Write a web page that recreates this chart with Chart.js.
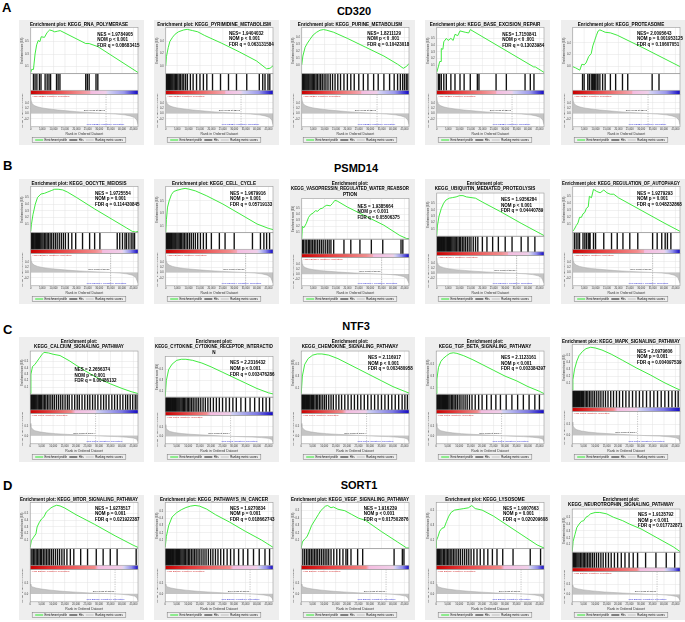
<!DOCTYPE html>
<html>
<head>
<meta charset="utf-8">
<script src="https://cdn.jsdelivr.net/npm/chart.js@4.4.1/dist/chart.umd.min.js"></script>
<style>
  body { margin: 0; background: #fff; width: 685px; height: 622px; position: relative; overflow: hidden;
         font-family: "Liberation Sans", Arial, sans-serif; }
  .lab { position: absolute; font-weight: bold; font-size: 13px; line-height: 1; }
  .gene { position: absolute; font-weight: bold; font-size: 11px; line-height: 1; width: 120px; margin-left: -60px; text-align: center; }
  canvas { position: absolute; background: #eeeeee; }
</style>
</head>
<body>
<div class="lab" style="left:2px;top:1px">A</div>
<div class="lab" style="left:3px;top:159px">B</div>
<div class="lab" style="left:3px;top:323px">C</div>
<div class="lab" style="left:3px;top:479px">D</div>
<div class="gene" style="left:354px;top:6px">CD320</div>
<div class="gene" style="left:356px;top:163px">PSMD14</div>
<div class="gene" style="left:356px;top:321px">NTF3</div>
<div class="gene" style="left:359px;top:480px">SORT1</div>
<script>
const FONT = '"Liberation Sans", Arial, sans-serif';

// ranks are in thousands (x axis labels show the full rank)

// ranked list metric, one per gene (row)
const rankCD320 = [[0,0.62],[0.2,0.48],[0.6,0.38],[1.5,0.3],[3,0.25],[5,0.21],[8,0.17],[12,0.13],[16,0.1],[20,0.07],[25,0.04],[30,0.015],[33,0],[37,-0.02],[41,-0.05],[43.5,-0.09],[45.5,-0.15],[46.5,-0.25],[47,-0.42]];
const rankPSMD14 = [[0,0.62],[0.2,0.45],[0.6,0.35],[1.5,0.28],[3,0.23],[5,0.19],[8,0.15],[12,0.12],[16,0.09],[20,0.065],[25,0.04],[30,0.02],[35,0],[39,-0.02],[42,-0.05],[44.5,-0.1],[46,-0.18],[47,-0.4]];
const rankNTF3 = [[0,0.62],[0.3,0.45],[1,0.33],[2,0.26],[4,0.2],[7,0.15],[11,0.11],[15,0.08],[20,0.05],[25,0.02],[28.5,0],[33,-0.02],[38,-0.04],[42,-0.07],[45,-0.11],[46.5,-0.17],[47,-0.3]];
const rankSORT1 = [[0,0.45],[0.3,0.38],[1,0.32],[2.5,0.27],[5,0.22],[9,0.17],[14,0.12],[20,0.08],[26,0.045],[32,0.02],[37,0],[40,-0.02],[43,-0.05],[45.5,-0.1],[46.5,-0.17],[47,-0.3]];

// enrichment score curves
const esRnaPol = [[0,0],[0.4,0.05],[1.2,0.05],[1.9,0.3],[2.6,0.45],[3.3,0.52],[4.0,0.5],[4.6,0.58],[6.0,0.57],[7.2,0.65],[8.3,0.69],[9.3,0.68],[10.5,0.66],[11.7,0.67],[12.9,0.68],[24.1,0.47],[25.6,0.47],[29.4,0.42],[47,0]];
const esPyrimidine = [[0,0],[0.3,0.15],[1.1,0.3],[1.8,0.4],[3.0,0.47],[4.1,0.52],[5.6,0.56],[7.9,0.59],[9.4,0.6],[11.7,0.58],[14.0,0.56],[17.0,0.5],[24.6,0.37],[32.2,0.23],[39.8,0.08],[44.2,-0.05],[45.7,-0.04],[47,0.0]];
const esPurine = [[0,0],[0.5,0.13],[1.5,0.26],[2.5,0.32],[3.5,0.37],[5.0,0.44],[6.5,0.48],[8.0,0.51],[9.5,0.52],[11.0,0.51],[14.0,0.48],[20.0,0.39],[28.0,0.26],[36.0,0.13],[42.0,0.01],[44.5,-0.05],[46.0,-0.02],[47,0.02]];
const esBaseExc = [[0,0],[0.7,0.08],[1.3,0.16],[1.9,0.16],[2.0,0.35],[2.7,0.34],[3.1,0.45],[4.2,0.5],[5.0,0.47],[6.2,0.5],[7.2,0.47],[8.0,0.56],[9.2,0.54],[10.2,0.61],[12.5,0.59],[14.0,0.58],[14.7,0.63],[42.5,0.08],[43.2,0.08],[47,0]];
const esProteasome = [[0,0],[1.2,-0.02],[3.1,-0.06],[4.0,0.04],[5.0,0.03],[5.8,0.06],[7.0,0.17],[8.1,0.22],[8.8,0.35],[9.6,0.44],[10.4,0.53],[11.1,0.6],[11.9,0.62],[13.1,0.6],[14.2,0.58],[16.5,0.57],[19.5,0.53],[31.7,0.3],[47,0]];
const esOocyte = [[0,0],[0.3,0.1],[1.0,0.25],[2.0,0.4],[3.0,0.5],[4.5,0.55],[6.0,0.56],[7.5,0.58],[9.0,0.6],[10.5,0.62],[12.0,0.62],[14.0,0.61],[16.0,0.58],[20.0,0.5],[28.0,0.33],[36.0,0.17],[42.0,0.05],[44.5,0.0],[46.0,-0.01],[47,0.0]];
const esCellCycle = [[0,0],[0.3,0.2],[0.8,0.4],[1.5,0.5],[2.5,0.6],[3.5,0.65],[5.0,0.67],[7.0,0.69],[8.5,0.7],[10.0,0.69],[13.0,0.66],[18.0,0.58],[25.0,0.45],[33.0,0.28],[40.0,0.13],[45.0,0.06],[47,0.04]];
const esVasopressin = [[0,0],[0.3,0.2],[1.0,0.18],[2.0,0.25],[3.0,0.35],[4.0,0.4],[5.0,0.42],[6.0,0.46],[7.0,0.45],[8.0,0.49],[9.0,0.5],[10.0,0.53],[11.0,0.55],[12.5,0.54],[13.5,0.58],[14.5,0.63],[15.5,0.62],[20.0,0.52],[28.0,0.37],[36.0,0.22],[43.0,0.05],[46.0,0.0],[47,0.0]];
const esUbiquitin = [[0,0],[0.3,0.15],[1.0,0.3],[2.0,0.42],[3.0,0.5],[4.0,0.55],[5.5,0.58],[7.0,0.59],[8.5,0.6],[10.0,0.62],[11.5,0.62],[13.0,0.6],[15.0,0.59],[17.0,0.58],[20.0,0.52],[28.0,0.37],[37.0,0.19],[47,0.0]];
const esAutophagy = [[0,0],[0.7,0.03],[1.5,0.08],[2.3,0.12],[3.0,0.2],[3.8,0.2],[4.5,0.25],[5.3,0.27],[6.0,0.33],[6.8,0.35],[7.3,0.5],[8.2,0.48],[9.1,0.6],[10.5,0.57],[12.0,0.55],[13.6,0.59],[15.0,0.55],[16.5,0.53],[18.0,0.53],[20.0,0.48],[30.0,0.3],[40.0,0.12],[47,0.0]];
const esCalcium = [[0,0],[0.3,0.3],[1.0,0.42],[2.0,0.45],[3.0,0.5],[4.0,0.55],[5.0,0.6],[6.0,0.64],[8.0,0.63],[10.0,0.61],[13.0,0.59],[17.0,0.51],[20.0,0.44],[25.0,0.33],[30.0,0.23],[35.0,0.15],[40.0,0.08],[44.0,0.03],[47,0.0]];
const esCytokine = [[0,0],[0.5,0.3],[1.5,0.5],[3.0,0.6],[5.0,0.67],[7.0,0.69],[9.0,0.69],[12.0,0.67],[16.0,0.62],[20.0,0.55],[25.0,0.45],[30.0,0.35],[35.0,0.25],[40.0,0.15],[45.0,0.07],[47,0.05]];
const esChemokine = [[0,0],[0.5,0.3],[1.5,0.5],[3.0,0.6],[5.0,0.66],[7.0,0.68],[9.0,0.68],[12.0,0.66],[16.0,0.6],[20.0,0.52],[25.0,0.42],[30.0,0.32],[35.0,0.22],[40.0,0.12],[45.0,0.04],[47,0.01]];
const esTgfBeta = [[0,0],[0.3,0.25],[1.0,0.45],[2.0,0.55],[3.0,0.6],[4.5,0.65],[6.0,0.69],[7.5,0.7],[9.0,0.69],[12.0,0.65],[16.0,0.58],[20.0,0.5],[25.0,0.4],[30.0,0.3],[35.0,0.22],[40.0,0.12],[45.0,0.04],[47,0.0]];
const esMapk = [[0,0],[0.3,0.15],[1.0,0.3],[2.0,0.42],[3.0,0.5],[4.5,0.56],[6.0,0.6],[8.0,0.62],[10.0,0.61],[13.0,0.58],[17.0,0.52],[22.0,0.43],[28.0,0.32],[34.0,0.22],[40.0,0.11],[45.0,0.03],[47,0.0]];
const esMtor = [[0,0],[0.5,0.1],[1.5,0.15],[2.5,0.2],[3.0,0.3],[4.0,0.37],[5.0,0.42],[6.0,0.45],[7.0,0.52],[8.0,0.55],[9.0,0.58],[10.0,0.6],[11.5,0.62],[13.0,0.61],[15.0,0.58],[20.0,0.48],[28.0,0.34],[37.0,0.17],[45.0,0.03],[47,0.0]];
const esCancer = [[0,0],[0.5,0.15],[1.5,0.3],[3.0,0.42],[5.0,0.48],[7.0,0.52],[9.0,0.55],[11.0,0.57],[13.0,0.58],[15.0,0.57],[18.0,0.53],[22.0,0.45],[28.0,0.35],[35.0,0.22],[42.0,0.1],[47,0.0]];
const esVegf = [[0,0],[0.5,0.08],[1.5,0.12],[2.5,0.15],[3.5,0.22],[4.5,0.3],[5.5,0.35],[6.5,0.4],[7.5,0.45],[8.5,0.5],[9.5,0.53],[10.5,0.56],[11.5,0.57],[13.0,0.54],[14.0,0.55],[16.0,0.52],[19.0,0.5],[22.0,0.45],[25.0,0.4],[28.0,0.37],[35.0,0.22],[42.0,0.08],[46.0,0.0],[47,0.0]];
const esLysosome = [[0,0],[0.1,0.1],[0.8,0.15],[1.5,0.22],[2.5,0.26],[3.5,0.27],[4.5,0.35],[5.5,0.42],[6.5,0.47],[8.0,0.5],[10.0,0.51],[12.0,0.52],[14.0,0.53],[15.5,0.56],[17.0,0.52],[20.0,0.5],[25.0,0.42],[30.0,0.32],[37.0,0.18],[44.0,0.04],[47,0.0]];
const esNeuro = [[0,0],[0.4,0.15],[1.2,0.25],[2.0,0.35],[3.0,0.4],[4.0,0.44],[5.0,0.45],[6.0,0.5],[7.0,0.52],[8.0,0.55],[10.0,0.57],[12.0,0.57],[15.0,0.55],[18.0,0.5],[22.0,0.45],[25.0,0.4],[30.0,0.33],[37.0,0.2],[44.0,0.07],[47,0.0]];

// hit positions (gene set members in the ranked list)
const hitsRnaPol = [1.2,1.9,2.7,3.8,4.5,6.3,7.2,8.0,8.7,11.3,12.0,12.8,24.1,24.8,25.6,28.6,29.4];
const hitsPyrimidine = [0.3,0.6,0.9,1.2,1.6,2.0,2.4,2.8,3.2,3.7,4.2,4.7,5.3,5.9,6.5,7.2,7.9,8.7,9.5,10.8,12.0,13.5,15.0,16.5,18.0,20.5,24.0,27.5,31.0,35.5,41.0,42.5,43.5,44.8,45.6];
const hitsPurine = [0.2,0.5,0.8,1.1,1.5,1.9,2.3,2.7,3.1,3.6,4.1,4.6,5.1,5.7,6.3,6.9,7.6,8.3,9.0,9.8,10.6,11.5,12.5,13.5,14.6,15.8,17.0,18.5,20.0,21.5,23.0,25.0,27.0,29.0,31.5,33.5,36.0,38.5,40.5,42.0,43.2,44.2,45.0,45.8,46.5];
const hitsBaseExc = [0.7,1.3,2.0,3.1,4.2,6.2,8.0,10.2,12.0,14.7,17.8,18.5,26.0,30.5,38.7,41.0,42.6];
const hitsProteasome = [4.3,5.0,6.6,7.3,8.1,8.7,9.2,9.6,10.1,10.7,11.1,11.9,13.1,14.2,16.5,18.8,21.8,24.1,34.8,37.8];
const hitsOocyte = [0.2,0.5,0.8,1.1,1.4,1.8,2.2,2.6,3.0,3.4,3.9,4.4,4.9,5.4,6.0,6.6,7.2,7.8,8.5,9.2,10.0,10.8,11.6,12.5,13.4,14.3,15.2,16.5,18.0,19.7,22.7,25.8,28.0,30.3,37.9,39.0,40.2,41.3,42.0,43.0,44.0,44.8,45.5];
const hitsCellCycle = [0.1,0.3,0.5,0.7,0.9,1.1,1.3,1.6,1.9,2.2,2.5,2.8,3.2,3.6,4.0,4.4,4.9,5.4,5.9,6.4,7.0,7.6,8.2,8.9,9.6,10.4,11.2,12.1,13.0,14.0,15.2,16.5,17.8,20.0,23.5,26.0,30.0,38.0,41.5,43.0,44.2,45.5];
const hitsVasopressin = [0.3,0.8,1.5,2.2,2.9,3.5,4.1,4.8,5.5,6.2,7.0,7.8,8.6,9.4,10.3,11.2,12.0,12.8,14.0,18.5,21.5,25.5,30.5,35.5,43.5,44.3];
const hitsUbiquitin = [0.1,0.3,0.5,0.7,0.9,1.1,1.3,1.5,1.8,2.1,2.4,2.7,3.0,3.3,3.6,4.0,4.4,4.8,5.2,5.6,6.1,6.6,7.1,7.6,8.1,8.7,9.3,9.9,10.5,11.2,11.9,12.6,13.4,14.2,15.0,16.0,17.0,18.0,20.0,22.0,24.5,27.0,30.0,33.0,37.0,40.0,43.0];
const hitsAutophagy = [0.7,1.5,2.3,3.0,4.5,5.3,6.0,6.8,7.3,7.6,9.1,10.0,13.6,17.0,19.5,22.0,25.0,28.5,35.0,37.0,39.0,40.5,41.5,43.0];
const hitsCalcium = [0.1,0.3,0.5,0.8,1.1,1.4,1.8,2.2,2.6,3.0,3.5,4.0,4.5,5.0,5.6,6.2,6.8,7.5,8.2,9.0,9.8,10.6,11.5,12.4,13.3,14.2,15.2,16.2,17.0,18.2,19.4,20.5,21.4,22.6,23.8,25.0,26.0,27.2,28.3,29.5,30.8,32.0,33.1,34.3,35.6,36.8,38.0,39.2,40.4,41.6,42.5,43.6,44.7,45.8,46.6];
const hitsCytokine = [0.05,0.2,0.35,0.5,0.65,0.8,0.95,1.1,1.3,1.5,1.7,1.9,2.1,2.3,2.6,2.9,3.2,3.5,3.8,4.1,4.4,4.8,5.2,5.6,6.0,6.4,6.9,7.4,7.9,8.4,9.0,9.6,10.2,10.8,11.5,12.2,13.0,13.8,14.6,15.5,16.5,17.5,18.6,19.7,21.0,22.3,23.6,25.0,26.5,28.0,29.5,31.0,33.0,35.0,37.0,39.0,41.0,42.5,44.0,45.5];
const hitsChemokine = [0.1,0.3,0.5,0.7,0.9,1.1,1.4,1.7,2.0,2.3,2.7,3.1,3.5,3.9,4.4,4.9,5.4,6.0,6.6,7.2,7.9,8.6,9.4,10.2,11.0,12.0,13.0,14.0,15.2,16.4,17.6,19.0,20.4,21.8,23.2,24.6,26.0,27.5,29.0,30.5,32.0,33.5,35.0,36.5,38.0,39.5,41.0,42.5,44.0,45.2,46.3];
const hitsTgfBeta = [0.1,0.3,0.5,0.8,1.1,1.4,1.7,2.0,2.4,2.8,3.2,3.6,4.0,4.5,5.0,5.5,6.0,6.6,7.2,7.8,8.5,9.2,10.0,10.8,11.7,12.6,13.5,14.5,15.6,17.0,18.5,20.0,22.0,24.0,26.0,28.0,30.5,33.0,35.5,38.0,40.5,43.0,45.0];
const hitsMapk = [0.1,0.3,0.5,0.7,1.0,1.3,1.6,1.9,2.3,2.7,3.1,3.5,4.0,4.5,5.0,5.6,6.2,6.8,7.5,8.2,9.0,9.8,10.7,11.6,12.5,13.5,14.5,15.6,16.8,18.0,19.3,20.6,22.0,23.4,24.8,26.3,27.8,29.3,30.8,32.4,34.0,35.6,37.2,38.8,40.4,42.0,43.5,45.0,46.2];
const hitsMtor = [0.3,0.8,1.4,2.0,2.6,3.2,3.8,4.4,5.0,5.7,6.4,7.1,7.8,8.5,9.3,10.1,11.0,11.9,12.8,13.8,14.8,16.0,17.5,19.0,22.0,25.0,28.8,31.8,34.9,37.9,46.2];
const hitsCancer = [0.05,0.2,0.35,0.5,0.65,0.8,1.0,1.2,1.4,1.6,1.8,2.0,2.3,2.6,2.9,3.2,3.5,3.8,4.2,4.6,5.0,5.4,5.8,6.3,6.8,7.3,7.8,8.3,8.9,9.5,10.1,10.7,11.4,12.1,12.8,13.5,14.3,15.1,16.0,16.9,17.8,18.8,19.8,20.8,21.9,23.0,24.2,25.5,27.0,28.5,30.0,32.0,34.0,36.0,38.5,41.0,43.5,45.5];
const hitsVegf = [0.7,1.5,2.3,3.0,3.7,4.4,5.1,5.8,6.5,7.2,8.0,8.8,9.6,10.4,11.2,12.0,13.0,14.2,15.5,16.8,18.2,19.5,20.2,21.7,24.6,26.8,40.5,44.1,44.8];
const hitsLysosome = [0.1,0.5,1.0,1.5,2.0,2.5,3.1,3.7,4.3,4.9,5.5,6.1,6.8,7.5,8.2,9.0,9.8,10.6,11.5,12.4,13.3,14.2,15.2,16.4,17.8,19.2,20.8,22.5,24.5,26.5,29.0,33.5,41.0,45.5];
const hitsNeuro = [0.2,0.6,1.0,1.5,2.0,2.5,3.0,3.6,4.2,4.8,5.4,6.0,6.7,7.4,8.1,8.9,9.7,10.6,11.5,12.5,13.5,14.6,15.8,17.0,18.4,19.8,21.4,23.0,24.8,26.6,28.5,32.0,36.5,41.0,44.7];

// rows: one gene each
const rows = [
  { gene: 'CD320', rank: rankCD320, zero: 33, zeroText: 'Zero cross at 32961', rMin: -0.5, rMax: 0.72, rStep: 0.2, y: 20,
    grad: [[0,'#c80000'],[0.2,'#e83a3a'],[0.45,'#f08a8a'],[0.55,'#f4a6b4'],[0.56,'#f4bce0'],[0.7,'#f0cfe9'],[0.72,'#d6d4f4'],[0.87,'#9a98ec'],[1,'#1208c4']] },
  { gene: 'PSMD14', rank: rankPSMD14, zero: 35, zeroText: 'Zero cross at 35457', rMin: -0.5, rMax: 0.72, rStep: 0.2, y: 179,
    grad: [[0,'#c80000'],[0.25,'#e83a3a'],[0.6,'#f28c8c'],[0.66,'#f4a6b4'],[0.67,'#f4bce0'],[0.85,'#f0cfe9'],[0.87,'#d6d4f4'],[0.93,'#8f8cea'],[1,'#1208c4']] },
  { gene: 'NTF3', rank: rankNTF3, zero: 28.5, zeroText: 'Zero cross at 28014', rMin: -0.4, rMax: 1.12, rStep: 0.5, y: 337,
    grad: [[0,'#c80000'],[0.15,'#e03030'],[0.38,'#f08a8a'],[0.42,'#f4bce0'],[0.6,'#f0cfe9'],[0.62,'#d0d2f4'],[0.85,'#7c78e4'],[1,'#1208c4']] },
  { gene: 'SORT1', rank: rankSORT1, zero: 37, zeroText: 'Zero cross at 37877', rMin: -0.36, rMax: 1.12, rStep: 0.5, y: 495,
    grad: [[0,'#c80000'],[0.25,'#e83a3a'],[0.6,'#f28c8c'],[0.63,'#f4bce0'],[0.85,'#f0cfe9'],[0.87,'#d6d4f4'],[0.94,'#8f8cea'],[1,'#1208c4']] }
];

const colX = [19, 154, 290, 425, 561];

const panels = [
  { r:0, c:0, title:['Enrichment plot: KEGG_RNA_POLYMERASE'], es:esRnaPol, hits:hitsRnaPol, eMin:-0.02, eMax:0.73,
    stats:['NES = 1.9784905','NOM p < 0.001','FDR q = 0.08683415'], at:[0.62,0.1] },
  { r:0, c:1, title:['Enrichment plot: KEGG_PYRIMIDINE_METABOLISM'], es:esPyrimidine, hits:hitsPyrimidine, eMin:-0.13, eMax:0.63,
    stats:['NES= 1.9404032','NOM p < 0.001','FDR q = 0.063131584'], at:[0.59,0.08] },
  { r:0, c:2, title:['Enrichment plot: KEGG_PURINE_METABOLISM'], es:esPurine, hits:hitsPurine, eMin:-0.13, eMax:0.55,
    stats:['NES= 1.8211129','NOM p < 0 .001','FDR q = 0.10423018'], at:[0.61,0.08] },
  { r:0, c:3, title:['Enrichment plot: KEGG_BASE_EXCISION_REPAIR'], es:esBaseExc, hits:hitsBaseExc, eMin:-0.02, eMax:0.66,
    stats:['NES= 1.7150841','NOM p < 0 .001','FDR q = 0.13023984'], at:[0.61,0.1] },
  { r:0, c:4, title:['Enrichment plot: KEGG_PROTEASOME'], es:esProteasome, hits:hitsProteasome, eMin:-0.12, eMax:0.66,
    stats:['NES= 2.0095643','NOM p = 0.001953125','FDR q = 0.10607051'], at:[0.6,0.08] },

  { r:1, c:0, title:['Enrichment plot: KEGG_OOCYTE_MEIOSIS'], es:esOocyte, hits:hitsOocyte, eMin:-0.02, eMax:0.66,
    stats:['NES = 1.9725554','NOM p = 0.001','FDR q = 0.114430845'], at:[0.6,0.1] },
  { r:1, c:1, title:['Enrichment plot: KEGG_CELL_CYCLE'], es:esCellCycle, hits:hitsCellCycle, eMin:-0.01, eMax:0.73,
    stats:['NES = 1.9679916','NOM p = 0.001','FDR q = 0.05719133'], at:[0.6,0.1] },
  { r:1, c:2, title:['Enrichment plot:','KEGG_VASOPRESSIN_REGULATED_WATER_REABSOR','PTION'], es:esVasopressin, hits:hitsVasopressin, eMin:-0.01, eMax:0.66,
    stats:['NES = 1.9385664','NOM p < 0.001','FDR q = 0.05506375'], at:[0.52,0.14] },
  { r:1, c:3, title:['Enrichment plot:','KEGG_UBIQUITIN_MEDIATED_PROTEOLYSIS'], es:esUbiquitin, hits:hitsUbiquitin, eMin:-0.01, eMax:0.66,
    stats:['NES = 1.9356284','NOM p < 0.001','FDR q = 0.04440789'], at:[0.6,0.1] },
  { r:1, c:4, title:['Enrichment plot: KEGG_REGULATION_OF_AUTOPHAGY'], es:esAutophagy, hits:hitsAutophagy, eMin:-0.02, eMax:0.64,
    stats:['NES = 1.9279293','NOM p = 0.001','FDR q = 0.048232868'], at:[0.6,0.1] },

  { r:2, c:0, title:['Enrichment plot:','KEGG_CALCIUM_SIGNALING_PATHWAY'], es:esCalcium, hits:hitsCalcium, eMin:-0.01, eMax:0.66,
    stats:['NES = 2.2656374','NOM p = 0.001','FDR q = 0.00486132'], at:[0.41,0.38] },
  { r:2, c:1, title:['Enrichment plot:','KEGG_CYTOKINE_CYTOKINE_RECEPTOR_INTERACTIO','N'], es:esCytokine, hits:hitsCytokine, eMin:-0.01, eMax:0.74,
    stats:['NES = 2.2316432','NOM p < 0.001','FDR q = 0.003476286'], at:[0.6,0.1] },
  { r:2, c:2, title:['Enrichment plot:','KEGG_CHEMOKINE_SIGNALING_PATHWAY'], es:esChemokine, hits:hitsChemokine, eMin:-0.01, eMax:0.73,
    stats:['NES = 2.116917','NOM p < 0.001','FDR q = 0.003480958'], at:[0.62,0.1] },
  { r:2, c:3, title:['Enrichment plot:','KEGG_TGF_BETA_SIGNALING_PATHWAY'], es:esTgfBeta, hits:hitsTgfBeta, eMin:-0.01, eMax:0.73,
    stats:['NES = 2.1123161','NOM p < 0.001','FDR q = 0.003384397'], at:[0.6,0.1] },
  { r:2, c:4, title:['Enrichment plot: KEGG_MAPK_SIGNALING_PATHWAY'], es:esMapk, hits:hitsMapk, eMin:-0.01, eMax:0.66,
    stats:['NES = 2.0979606','NOM p = 0.001','FDR q = 0.004097539'], at:[0.6,0.1] },

  { r:3, c:0, title:['Enrichment plot: KEGG_MTOR_SIGNALING_PATHWAY'], es:esMtor, hits:hitsMtor, eMin:-0.02, eMax:0.66,
    stats:['NES = 1.9278517','NOM p = 0.001','FDR q = 0.021922387'], at:[0.6,0.08] },
  { r:3, c:1, title:['Enrichment plot: KEGG_PATHWAYS_IN_CANCER'], es:esCancer, hits:hitsCancer, eMin:-0.02, eMax:0.62,
    stats:['NES = 1.9270834','NOM p = 0.001','FDR q = 0.018662743'], at:[0.6,0.08] },
  { r:3, c:2, title:['Enrichment plot: KEGG_VEGF_SIGNALING_PATHWAY'], es:esVegf, hits:hitsVegf, eMin:-0.01, eMax:0.61,
    stats:['NES = 1.916239','NOM p < 0.001','FDR q = 0.017502876'], at:[0.58,0.08] },
  { r:3, c:3, title:['Enrichment plot: KEGG_LYSOSOME'], es:esLysosome, hits:hitsLysosome, eMin:-0.01, eMax:0.6,
    stats:['NES = 1.9007663','NOM p = 0.001','FDR q = 0.020209608'], at:[0.62,0.08] },
  { r:3, c:4, title:['Enrichment plot:','KEGG_NEUROTROPHIN_SIGNALING_PATHWAY'], es:esNeuro, hits:hitsNeuro, eMin:-0.01, eMax:0.62,
    stats:['NES = 1.9135792','NOM p < 0.001','FDR q = 0.017732871'], at:[0.61,0.08] }
];

const XMAX = 47;

function onSteps(step) {
  return (s) => { s.ticks = s.ticks.filter(t => Math.abs(t.value / step - Math.round(t.value / step)) < 1e-6); };
}

const gseaDecor = {
  id: 'gseaDecor',
  beforeDraw(chart) {
    const { ctx, chartArea: a } = chart;
    ctx.save();
    ctx.fillStyle = '#ffffff';
    ctx.fillRect(a.left, a.top, a.right - a.left, a.bottom - a.top);
    ctx.restore();
  },
  beforeDatasetsDraw(chart, args, opts) {
    const { ctx, chartArea: a, scales } = chart;
    const x = scales.x, es = scales.yES, hit = scales.yHit, rk = scales.yRank;
    ctx.save();
    // vertical grid lines in the ES and ranked metric plots
    ctx.strokeStyle = '#e2e2e2';
    ctx.lineWidth = 0.5;
    x.ticks.forEach(t => {
      const px = x.getPixelForValue(t.value);
      ctx.beginPath();
      ctx.moveTo(px, es.top); ctx.lineTo(px, es.bottom);
      ctx.moveTo(px, rk.top); ctx.lineTo(px, rk.bottom);
      ctx.stroke();
    });
    // colour bar under the hits
    const g = ctx.createLinearGradient(a.left, 0, a.right, 0);
    opts.grad.forEach(s => g.addColorStop(s[0], s[1]));
    ctx.fillStyle = g;
    const gTop = hit.getPixelForValue(0.19), gBot = hit.getPixelForValue(0);
    ctx.fillRect(a.left, gTop, a.right - a.left, gBot - gTop);
    // zero cross marker
    const zx = x.getPixelForValue(opts.zero);
    ctx.setLineDash([1.2, 1.2]);
    ctx.strokeStyle = '#8c8c8c';
    ctx.beginPath(); ctx.moveTo(zx, rk.top); ctx.lineTo(zx, rk.bottom); ctx.stroke();
    ctx.restore();
  },
  afterDatasetsDraw(chart, args, opts) {
    const { ctx, chartArea: a, scales } = chart;
    const x = scales.x, es = scales.yES, hit = scales.yHit, rk = scales.yRank;
    ctx.save();
    ctx.strokeStyle = '#9a9a9a';
    ctx.lineWidth = 0.6;
    [es, hit, rk].forEach(s => ctx.strokeRect(a.left, s.top, a.right - a.left, s.bottom - s.top));
    ctx.beginPath();
    ctx.moveTo(a.left, hit.getPixelForValue(0.19)); ctx.lineTo(a.right, hit.getPixelForValue(0.19));
    ctx.stroke();
    // statistics
    ctx.fillStyle = '#000';
    ctx.font = 'bold 4.5px ' + FONT;
    ctx.textBaseline = 'top';
    const sx = a.left + opts.at[0] * (a.right - a.left);
    const sy = es.top + opts.at[1] * (es.bottom - es.top);
    opts.stats.forEach((s, i) => ctx.fillText(s, sx, sy + i * 5.7));
    // ranked list annotations
    ctx.font = '2.4px ' + FONT;
    ctx.fillStyle = '#d02020';
    ctx.fillText("'High " + opts.gene + "' (positively correlated)", a.left + 1.5, rk.top + 1);
    ctx.fillStyle = '#2020d0';
    ctx.textBaseline = 'bottom';
    ctx.fillText("'Low " + opts.gene + "' (negatively correlated)", a.left + 0.52 * (a.right - a.left), rk.bottom - 1.5);
    ctx.fillStyle = '#222';
    ctx.textAlign = 'right';
    ctx.fillText(opts.zeroText, x.getPixelForValue(opts.zero) - 1, rk.getPixelForValue(0) - 1.5);
    // legend frame
    const boxes = chart.legend.legendHitBoxes;
    if (boxes && boxes.length) {
      const l = Math.min(...boxes.map(b => b.left)) - 3;
      const r = Math.max(...boxes.map(b => b.left + b.width)) + 3;
      const t = Math.min(...boxes.map(b => b.top)) - 1;
      const b = Math.max(...boxes.map(b => b.top + b.height)) + 1;
      ctx.strokeStyle = '#777';
      ctx.lineWidth = 0.5;
      ctx.strokeRect(l, t, r - l, b - t);
    }
    ctx.restore();
  }
};

function makePanel(p) {
  const row = rows[p.r];
  const cv = document.createElement('canvas');
  cv.width = 125; cv.height = 125;
  cv.style.left = colX[p.c] + 'px';
  cv.style.top = row.y + 'px';
  document.body.appendChild(cv);

  const tick = { size: 2.6, family: FONT };
  const titlePadBottom = p.title.length === 1 ? 0.5 : 1.5;

  new Chart(cv, {
    type: 'line',
    data: {
      datasets: [
        { label: 'Enrichment profile', data: p.es.map(d => ({ x: d[0], y: d[1] })), yAxisID: 'yES',
          borderColor: '#2be82b', borderWidth: 0.9, pointRadius: 0, tension: 0, order: 1 },
        { label: 'Hits', type: 'bar', data: p.hits.map(h => ({ x: h, y: [0.2, 1] })), yAxisID: 'yHit',
          backgroundColor: '#111111', borderWidth: 0, barThickness: 0.7, grouped: false, order: 2 },
        { label: 'Ranking metric scores', data: row.rank.map(d => ({ x: d[0], y: d[1] })), yAxisID: 'yRank',
          borderColor: '#a9a9a9', borderWidth: 0.5, backgroundColor: '#c4c4c4', fill: 'origin',
          pointRadius: 0, tension: 0, order: 3 }
      ]
    },
    options: {
      responsive: false,
      animation: false,
      devicePixelRatio: 1,
      layout: { padding: { left: 1, right: 6, top: 0, bottom: 1.5 } },
      plugins: {
        title: { display: true, text: p.title, color: '#000', font: { size: 4.6, weight: 'bold', family: FONT },
                 padding: { top: 1.5, bottom: titlePadBottom }, lineHeight: 1.25 },
        legend: {
          position: 'bottom',
          maxHeight: 7,
          labels: {
            font: { size: 2.8, family: FONT }, color: '#222', boxWidth: 8, boxHeight: 1, padding: 2.2,
            generateLabels: () => [
              { text: 'Enrichment profile', fillStyle: '#2be82b', strokeStyle: '#2be82b', lineWidth: 0, datasetIndex: 0 },
              { text: 'Hits', fillStyle: '#111', strokeStyle: '#111', lineWidth: 0, datasetIndex: 1 },
              { text: 'Ranking metric scores', fillStyle: '#bbb', strokeStyle: '#bbb', lineWidth: 0, datasetIndex: 2 }
            ]
          }
        },
        tooltip: { enabled: false },
        gseaDecor: { grad: row.grad, zero: row.zero, zeroText: row.zeroText, gene: row.gene, stats: p.stats, at: p.at }
      },
      scales: {
        x: {
          type: 'linear', min: 0, max: XMAX, offset: false,
          grid: { display: false, drawTicks: false, tickLength: 0 }, border: { display: false },
          afterBuildTicks: onSteps(5),
          ticks: { stepSize: 5, font: tick, color: '#333', padding: 1, maxRotation: 0, autoSkip: false,
                   callback: v => (v * 1000).toLocaleString('en-US') },
          title: { display: true, text: 'Rank in Ordered Dataset', color: '#333', font: { size: 3.4, family: FONT }, padding: { top: 0.5, bottom: 0 } }
        },
        yRank: {
          type: 'linear', position: 'left', stack: 'gsea', stackWeight: 33, min: row.rMin, max: row.rMax,
          grid: { color: '#e2e2e2', lineWidth: 0.5, tickLength: 1.5 }, border: { display: false },
          afterBuildTicks: onSteps(row.rStep),
          ticks: { stepSize: row.rStep, font: tick, color: '#333', padding: 0.5, callback: v => v.toFixed(1) },
          title: { display: true, text: 'Ranked list metric (Signal2Noise)', color: '#333', font: { size: 2.3, family: FONT }, padding: 0.5 }
        },
        yHit: {
          type: 'linear', position: 'left', stack: 'gsea', stackWeight: 21, min: 0, max: 1,
          grid: { display: false, drawTicks: false, tickLength: 0 }, border: { display: false }, ticks: { display: false }
        },
        yES: {
          type: 'linear', position: 'left', stack: 'gsea', stackWeight: 47, min: p.eMin, max: p.eMax,
          grid: { color: '#e2e2e2', lineWidth: 0.5, tickLength: 1.5 }, border: { display: false },
          afterBuildTicks: onSteps(0.1),
          ticks: { stepSize: 0.1, font: tick, color: '#333', padding: 0.5, callback: v => v.toFixed(1) },
          title: { display: true, text: 'Enrichment score (ES)', color: '#333', font: { size: 2.6, family: FONT }, padding: 0.5 }
        }
      }
    },
    plugins: [gseaDecor]
  });
}

panels.forEach(makePanel);
</script>
</body>
</html>
